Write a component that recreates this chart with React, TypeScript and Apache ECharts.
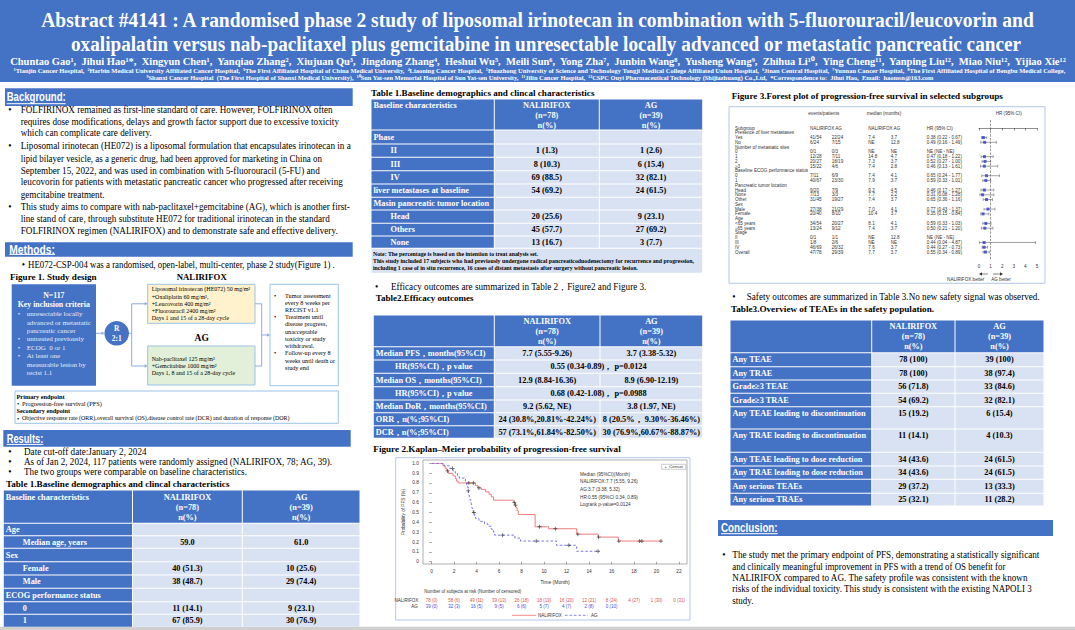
import React, { useEffect, useRef } from "react";
import * as echarts from "echarts";

// ---------------- DATA: Figure 2 Kaplan–Meier (PFS) ----------------
const kmNalirifox = [[0,1],[1.0,0.974],[1.2,0.949],[1.35,0.923],[1.5,0.897],[1.9,0.872],[2.1,0.846],[2.2,0.82],[2.35,0.8],[3.9,0.775],[4.1,0.75],[4.4,0.735],[4.8,0.71],[5.1,0.685],[5.3,0.66],[5.5,0.625],[7.3,0.6],[7.4,0.575],[7.5,0.55],[7.6,0.52],[7.7,0.48],[9.2,0.355],[10.4,0.335],[12.9,0.28],[14.8,0.25],[16.6,0.21],[20.4,0.21]];
const kmAG = [[0,1],[1.1,0.974],[1.6,0.949],[1.9,0.92],[2.1,0.9],[2.3,0.875],[2.45,0.85],[3.0,0.82],[3.1,0.79],[3.15,0.76],[3.25,0.72],[3.3,0.69],[3.35,0.66],[3.4,0.63],[3.5,0.6],[3.55,0.57],[3.6,0.54],[3.7,0.5],[3.8,0.47],[3.9,0.44],[4.2,0.41],[4.7,0.385],[5.0,0.36],[5.3,0.33],[5.5,0.3],[5.6,0.27],[7.4,0.24],[7.9,0.21],[11.1,0.167],[12.9,0.106],[14.8,0.106]];
const censorNalirifox = [[1.4,0.923],[3.3,0.8],[3.7,0.8],[4.2,0.75],[7.35,0.6],[7.45,0.575],[9.6,0.355],[11.0,0.335],[13.0,0.28],[14.85,0.25],[16.65,0.21],[18.5,0.21],[18.7,0.21],[20.4,0.21]];
const censorAG = [[1.85,0.949],[3.25,0.72],[3.75,0.5],[6.3,0.27],[9.3,0.21],[12.2,0.167],[14.8,0.106]];
const riskMonths = [0,2,4,6,8,10,12,14,16,18,20,22];
const riskNalirifox = ["78 (0)","58 (6)","49 (11)","39 (13)","26 (18)","18 (19)","16 (20)","12 (21)","8 (24)","4 (27)","1 (30)","0 (31)"];
const riskAG = ["39 (0)","32 (3)","16 (5)","9 (5)","6 (6)","5 (7)","4 (7)","2 (8)","0 (10)"];
const kmStats = ["Median (95%CI)(Month)","NALIRIFOX:7.7 (5.55, 9.26)","AG:3.7 (3.38, 5.32)","HR:0.55 (95%CI 0.34, 0.89)","Logrank p-value=0.0124"];

// ---------------- DATA: Figure 3 forest plot ----------------
const forestLabels = ["Subgroup","Presence of liver metastases","Yes","No","Number of metastatic sites","0","1","2","\u22653","Baseline ECOG performance status","0","1","Pancreatic tumor location","Head","None","Other","Sex","Male","Female","Age","<65 years","\u226565 years","Stage","II","III","IV","Overall"];
const forestEventsN = ["NALIRIFOX AG","","41/54","6/24","","0/1","12/28","20/27","15/22","","7/11","40/67","","9/20","7/13","31/45","","27/38","20/40","","34/54","13/24","","0/1","1/8","46/69","47/78"];
const forestEventsA = ["","","22/24","7/15","","0/3","7/11","18/19","4/6","","6/9","23/30","","7/9","3/3","19/27","","21/29","8/10","","20/27","9/12","","1/1","2/6","26/32","29/39"];
const forestMedN = ["NALIRIFOX AG","","7.4","NE","","NE","14.8","7.3","7.4","","7.4","7.9","","9.2","7.7","7.4","","7.0","10.4","","8.1","7.4","","NE","NE","7.6","7.7"];
const forestMedA = ["","","3.7","12.8","","NE","4.7","3.7","2.8","","4.1","3.7","","4.5","2.2","3.7","","4.1","3.7","","4.1","3.7","","12.8","NE","3.7","3.7"];
const forestHRText = ["HR (95% CI)","","0.38 (0.22 - 0.67)","0.49 (0.16 - 1.49)","","NE (NE - NE)","0.47 (0.18 - 1.22)","0.52 (0.27 - 1.00)","0.46 (0.13 - 1.61)","","0.65 (0.24 - 1.77)","0.59 (0.33 - 1.01)","","0.46 (0.17 - 1.27)","0.31 (0.08 - 1.28)","0.65 (0.36 - 1.16)","","0.77 (0.43 - 1.37)","0.35 (0.15 - 0.84)","","0.59 (0.33 - 1.03)","0.50 (0.21 - 1.20)","","NE (NE - NE)","0.44 (0.04 - 4.87)","0.44 (0.27 - 0.73)","0.55 (0.34 - 0.89)"];
const forestHR = [null,null,0.38,0.49,null,null,0.47,0.52,0.46,null,0.65,0.59,null,0.46,0.31,0.65,null,0.77,0.35,null,0.59,0.50,null,null,0.44,0.44,0.55];
const forestLo = [null,null,0.22,0.16,null,null,0.18,0.27,0.13,null,0.24,0.33,null,0.17,0.08,0.36,null,0.43,0.15,null,0.33,0.21,null,null,0.04,0.27,0.34];
const forestHi = [null,null,0.67,1.49,null,null,1.22,1.00,1.61,null,1.77,1.01,null,1.27,1.28,1.16,null,1.37,0.84,null,1.03,1.20,null,null,4.87,0.73,0.89];

// ---------------- DATA: tables ----------------
const hdrN = ["NALIRIFOX","(n=78)","n(%)"];
const hdrAG = ["AG","(n=39)","n(%)"];
const t1aLabels = ["Age","Median age, years","Sex","Female","Male","ECOG performance status","0","1"];
const t1aIndent = [0,1,0,1,1,0,1,1];
const t1aN = ["","59.0","","40 (51.3)","38 (48.7)","","11 (14.1)","67 (85.9)"];
const t1aAG = ["","61.0","","10 (25.6)","29 (74.4)","","9 (23.1)","30 (76.9)"];
const t1bLabels = ["Phase","II","III","IV","liver metastases at baseline","Masin pancreatic tumor location","Head","Others","None"];
const t1bIndent = [0,1,1,1,0,0,1,1,1];
const t1bN = ["","1 (1.3)","8 (10.3)","69 (88.5)","54 (69.2)","","20 (25.6)","45 (57.7)","13 (16.7)"];
const t1bAG = ["","1 (2.6)","6 (15.4)","32 (82.1)","24 (61.5)","","9 (23.1)","27 (69.2)","3 (7.7)"];
const t2Labels = ["Median PFS\uff0cmonths(95%CI)","HR(95%CI)\uff0cp value","Median OS\uff0cmonths(95%CI)","HR(95%CI)\uff0cp value","Median DoR\uff0cmonths(95%CI)","ORR\uff0cn(%;95%CI)","DCR\uff0cn(%;95%CI)"];
const t2Merged = [0,1,0,1,0,0,0];
const t2N = ["7.7 (5.55-9.26)","0.55 (0.34-0.89)\uff0c p=0.0124","12.9 (8.84-16.36)","0.68 (0.42-1.08)\uff0c p=0.0988","9.2 (5.62, NE)","24 (30.8%,20.81%-42.24%)","57 (73.1%,61.84%-82.50%)"];
const t2AG = ["3.7 (3.38-5.32)","","8.9 (6.90-12.19)","","3.8 (1.97, NE)","8 (20.5%\uff0c 9.30%-36.46%)","30 (76.9%,60.67%-88.87%)"];
const t3Labels = ["Any TEAE","Any TRAE","Grade\u22653 TEAE","Grade\u22653 TRAE","Any TEAE leading to discontinuation","Any TRAE leading to discontinuation","Any TEAE leading to dose reduction","Any TRAE leading to dose reduction","Any serious TEAEs","Any serious TRAEs"];
const t3Tall = [0,0,0,0,1,1,0,0,0,0];
const t3N = ["78 (100)","78 (100)","56 (71.8)","54 (69.2)","15 (19.2)","11 (14.1)","34 (43.6)","34 (43.6)","29 (37.2)","25 (32.1)"];
const t3AG = ["39 (100)","38 (97.4)","33 (84.6)","32 (82.1)","6 (15.4)","4 (10.3)","24 (61.5)","24 (61.5)","13 (33.3)","11 (28.2)"];

// ---------------- STYLE ----------------
const BLUE = "#4472C4";
const LIGHT = "#D9E2F3";
const SERIF = "'Liberation Serif', 'Times New Roman', serif";
const SANS = "'Liberation Sans', Arial, sans-serif";
const KM_RED = "#EE6F6F";
const KM_BLUE = "#6464E6";
const PLUS = "path://M4,0H6V4H10V6H6V10H4V6H0V4H4Z";

const KM = { left: 431.7, top: 463.3, w: 247.3, h: 98.4, xmax: 22 };
const FP = { left: 979, top: 120, w: 58, h: 140, ymin: -1.68, ymax: 27.67 };
const kmX = (t: number) => KM.left + (t / KM.xmax) * KM.w;
const fy = (i: number) => FP.top + ((i - FP.ymin) / (FP.ymax - FP.ymin)) * FP.h;

let _ctx: any = null;
function measure(text: string, font: string) {
  if (!_ctx) _ctx = document.createElement("canvas").getContext("2d");
  if (!_ctx) return 0;
  _ctx.font = font;
  return _ctx.measureText(text).width;
}

function buildOption() {
  const els: any[] = [];
  const rect = (x: number, y: number, w: number, h: number, fill: string | null, stroke?: string, lw = 1, z = 5) =>
    els.push({ type: "rect", silent: true, z, shape: { x, y, width: w, height: h }, style: { fill: fill || "none", stroke: stroke || "none", lineWidth: lw } });
  const line = (x1: number, y1: number, x2: number, y2: number, stroke: string, lw = 1, dash?: number[]) =>
    els.push({ type: "line", silent: true, z: 8, shape: { x1, y1, x2, y2 }, style: { stroke, lineWidth: lw, lineDash: dash } });
  const arrowHead = (x: number, y: number, dir: number, color: string) =>
    els.push({ type: "polygon", silent: true, z: 8, shape: { points: [[x, y], [x - 3 * dir, y - 1.8], [x - 3 * dir, y + 1.8]] }, style: { fill: color } });
  const text = (t: string, x: number, y: number, o: any = {}) => {
    const font = `${o.bold ? "bold " : ""}${o.size ?? 9.3}px ${o.fam ?? SERIF}`;
    let sx = o.sx ?? 1;
    if (o.w) { const m = measure(t, font); if (m > 0) sx = o.w / m; }
    const al = o.align ?? "left";
    els.push({ type: "text", silent: true, z: 20, x, y, scaleX: sx, rotation: o.rot ?? 0,
      style: { text: t, font, fill: o.color ?? "#000", align: al, verticalAlign: "middle", textAlign: al, textVerticalAlign: "middle" } });
    return sx;
  };
  const para = (lines: any[], x: number, bx: number, size: number) => {
    let s = 1;
    for (const l of lines) {
      if (l.w) s = text(l.t, x, l.y, { size, w: l.w }); else text(l.t, x, l.y, { size, sx: s });
      if (l.b) text("\u2022", bx, l.y, { size });
    }
  };
  const sect = (label: string, x: number, y: number, w: number, h: number, tx: number, tw: number) => {
    rect(x, y, w, h, BLUE);
    text(label, tx, y + h / 2 - 0.3, { size: 13, bold: true, fam: SANS, color: "#fff", w: tw });
    line(tx, y + h - 2.3, tx + tw, y + h - 2.3, "#fff", 1);
  };
  const table = (cols: number[], ry: number[], hy: number[], hdrLabel: string, labels: string[], indent: number[] | null,
    vN: string[], vAG: string[], merged: number[] | null, centered: number[] | null, tall: number[] | null) => {
    const g = 0.5;
    for (let c = 0; c < 3; c++) rect(cols[c] + g, ry[0] + g, cols[c + 1] - cols[c] - 2 * g, ry[1] - ry[0] - 2 * g, BLUE);
    if (hdrLabel) text(hdrLabel, cols[0] + 2.5, hy[0], { size: 8.3, bold: true, color: "#fff" });
    for (let k = 0; k < 3; k++) {
      text(hdrN[k], (cols[1] + cols[2]) / 2, hy[k], { size: 8.3, bold: true, color: "#fff", align: "center" });
      text(hdrAG[k], (cols[2] + cols[3]) / 2, hy[k], { size: 8.3, bold: true, color: "#fff", align: "center" });
    }
    labels.forEach((lab, i) => {
      const y0 = ry[i + 1], y1 = ry[i + 2];
      rect(cols[0] + g, y0 + g, cols[1] - cols[0] - 2 * g, y1 - y0 - 2 * g, BLUE);
      if (merged && merged[i]) rect(cols[1] + g, y0 + g, cols[3] - cols[1] - 2 * g, y1 - y0 - 2 * g, LIGHT);
      else {
        rect(cols[1] + g, y0 + g, cols[2] - cols[1] - 2 * g, y1 - y0 - 2 * g, LIGHT);
        rect(cols[2] + g, y0 + g, cols[3] - cols[2] - 2 * g, y1 - y0 - 2 * g, LIGHT);
      }
      const ty = tall && tall[i] ? y0 + 6.8 : (y0 + y1) / 2;
      if (centered && centered[i]) text(lab, (cols[0] + cols[1]) / 2, ty, { size: 8.3, bold: true, color: "#fff", align: "center" });
      else text(lab, cols[0] + (indent && indent[i] ? 19.5 : 2.5), ty, { size: 8.3, bold: true, color: "#fff" });
      if (merged && merged[i]) text(vN[i], (cols[1] + cols[3]) / 2, ty, { size: 8.3, bold: true, align: "center" });
      else {
        if (vN[i]) text(vN[i], (cols[1] + cols[2]) / 2, ty, { size: 8.3, bold: true, align: "center" });
        if (vAG[i]) text(vAG[i], (cols[2] + cols[3]) / 2, ty, { size: 8.3, bold: true, align: "center" });
      }
    });
  };

  // ---------- header ----------
  rect(0, 0, 1075, 82, BLUE, undefined, 1, 1);
  text("Abstract #4141 : A randomised phase 2 study of liposomal irinotecan in combination with 5-fluorouracil/leucovorin and", 537.5, 19.8, { size: 20, bold: true, color: "#fff", align: "center", w: 995 });
  text("oxalipalatin versus nab-paclitaxel plus gemcitabine in unresectable locally advanced or metastatic pancreatic cancer", 546, 44.5, { size: 20, bold: true, color: "#fff", align: "center", w: 951 });
  text("Chuntao Gao\u00b9,  Jihui Hao\u00b9*,  Xingyun Chen\u00b9,  Yanqiao Zhang\u00b2,  Xiujuan Qu\u00b3,  Jingdong Zhang\u2074,  Heshui Wu\u2075,  Meili Sun\u2076,  Yong Zha\u2077,  Junbin Wang\u2078,  Yusheng Wang\u2079,  Zhihua Li\u00b9\u2070,  Ying Cheng\u00b9\u00b9,  Yanping Liu\u00b9\u00b2,  Miao Niu\u00b9\u00b2,  Yijiao Xie\u00b9\u00b2", 538, 61.3, { size: 10, bold: true, color: "#fff", align: "center", w: 1060 });
  text("\u00b9Tianjin Cancer Hospital,  \u00b2Harbin Medical University Affiliated Cancer Hospital,  \u00b3The First Affiliated Hospital of China Medical University,  \u2074Liaoning Cancer Hospital,  \u2075Huazhong University of Science and Technology Tongji Medical College Affiliated Union Hospital,  \u2076Jinan Central Hospital,  \u2077Yunnan Cancer Hospital,  \u2078The First Affiliated Hospital of Bengbu Medical College,", 539.5, 70.2, { size: 6.5, bold: true, color: "#fff", align: "center", w: 1055 });
  text("\u2079Shanxi Cancer Hospital  (The First Hospital of Shanxi Medical University),  \u00b9\u2070Sun Yat-sen Memorial Hospital of Sun Yat-sen University,  \u00b9\u00b9Jilin Cancer Hospital,  \u00b9\u00b2CSPC Ouyi Pharmaceutical Technology (Shijiazhuang) Co.,Ltd,  *Correspondence to:  Jihui Hao,  Email:  haomsn@163.com", 540, 77.3, { size: 6.5, bold: true, color: "#fff", align: "center", w: 790 });

  // ---------- left column ----------
  sect("Background:", 5, 88.3, 347.7, 17.7, 6.7, 59);
  para([
    { t: "FOLFIRINOX remained as first-line standard of care. However, FOLFIRINOX often", y: 110, w: 312.3, b: 1 },
    { t: "requires dose modifications, delays and growth factor support due to excessive toxicity", y: 121.7, w: 318.3 },
    { t: "which can complicate care delivery.", y: 133.3 },
    { t: "Liposomal irinotecan (HE072) is a liposomal formulation that encapsulates irinotecan in a", y: 146, w: 330.3, b: 1 },
    { t: "lipid bilayer vesicle, as a generic drug, had been approved for marketing in China on", y: 158.7, w: 301.3 },
    { t: "September 15, 2022, and was used in combination with 5-fluorouracil (5-FU) and", y: 170.7, w: 299.3 },
    { t: "leucovorin for patients with metastatic pancreatic cancer who progressed after receiving", y: 182.3, w: 322.3 },
    { t: "gemcitabine treatment.", y: 195 },
    { t: "This study aims to compare with nab-paclitaxel+gemcitabine (AG), which is another first-", y: 207.3, w: 329.3, b: 1 },
    { t: "line stand of care, through substitute HE072 for traditional irinotecan in the standard", y: 218.7, w: 309.3 },
    { t: "FOLFIRINOX regimen (NALIRIFOX) and to demonstrate safe and effective delivery.", y: 231, w: 317.3 },
  ], 20.7, 8.3, 9.3);

  sect("Methods:", 5, 242.3, 347.7, 14.4, 9.3, 45.7);
  para([{ t: "HE072-CSP-004 was a randomised, open-label, multi-center, phase 2 study(Figure 1) .", y: 265, w: 307, b: 1 }], 28, 21.7, 9.3);
  text("Figure 1. Study design", 10, 276.7, { size: 9, bold: true, w: 86.7 });
  text("NALIRIFOX", 201.7, 276.7, { size: 9, bold: true, align: "center", w: 50 });

  // study design diagram
  const ARW = "#8FAADC";
  rect(11.7, 284.3, 84.3, 101.4, BLUE);
  text("N=117", 53.8, 295, { size: 7.8, bold: true, color: "#fff", align: "center" });
  text("Key inclusion criteria", 53.8, 305, { size: 7.8, bold: true, color: "#fff", align: "center", w: 72.3 });
  const incl = [["unresectable locally", 314, 1], ["advanced or metastatic", 322.7, 0], ["pancreatic cancer", 331, 0], ["untreated previously", 339.3, 1], ["ECOG  0 or 1", 347.7, 1], ["At least one", 356.3, 1], ["measurable lesion by", 364.7, 0], ["recist 1.1", 373.3, 0]];
  incl.forEach(([t, y, b]: any) => { text(t, 26.7, y, { size: 7, color: "#E9EEF8" }); if (b) text("\u2022", 17.7, y, { size: 7, color: "#E9EEF8" }); });
  line(96, 333.3, 102, 333.3, ARW, 1); arrowHead(104.5, 333.3, 1, ARW);
  els.push({ type: "circle", silent: true, z: 6, shape: { cx: 116.7, cy: 333.3, r: 12.3 }, style: { fill: BLUE } });
  text("R", 116.7, 328, { size: 7.5, bold: true, color: "#fff", align: "center" });
  text("2:1", 116.7, 338.5, { size: 7.5, bold: true, color: "#fff", align: "center" });
  line(129, 333.3, 131.7, 333.3, ARW, 1);
  line(131.7, 303.8, 131.7, 366, ARW, 1);
  line(131.7, 303.8, 145, 303.8, ARW, 1); arrowHead(147.7, 303.8, 1, ARW);
  line(131.7, 366, 145, 366, ARW, 1); arrowHead(147.7, 366, 1, ARW);
  rect(147.7, 284.3, 107.3, 39, "#FFF2CC", "#9DC3E6", 1);
  [["Liposomal irinotecan (HE072) 50 mg/m\u00b2", 289.3], ["+Oxaliplatin 60 mg/m\u00b2,", 296.7], ["+Leucovorin 400 mg/m\u00b2", 303.7], ["+Fluorouracil 2400 mg/m\u00b2", 310.7], ["Days 1 and 15 of a 28-day cycle", 318.3]]
    .forEach(([t, y]: any) => text(t, 151.7, y, { size: 6 }));
  text("AG", 201.7, 338.3, { size: 9.5, bold: true, align: "center" });
  rect(147.7, 346, 107.3, 39, "#E2F0D9", "#9DC3E6", 1);
  [["Nab-paclitaxel 125 mg/m\u00b2", 359], ["+Gemcitabine 1000 mg/m\u00b2", 366], ["Days 1, 8 and 15 of a 28-day cycle", 373.3]]
    .forEach(([t, y]: any) => text(t, 151.7, y, { size: 6 }));
  line(255, 303.8, 261.7, 303.8, ARW, 1);
  line(255, 366, 261.7, 366, ARW, 1);
  line(261.7, 303.8, 261.7, 366, ARW, 1);
  line(261.7, 335, 267.5, 335, ARW, 1); arrowHead(270, 335, 1, ARW);
  rect(270, 284.3, 68.3, 101.4, "#fff", "#9DC3E6", 1);
  const rb = [["Tumor assessment", 295.7, 1], ["every 8 weeks per", 302.7, 0], ["RECIST v1.1", 309.7, 0], ["Treatment until", 316.7, 1], ["disease progress,", 323.7, 0], ["unacceptable", 331, 0], ["toxicity or study", 338.3, 0], ["withdrawal.", 345.3, 0], ["Follow-up every 8", 352.7, 1], ["weeks until death or", 360, 0], ["study end", 367, 0]];
  rb.forEach(([t, y, b]: any) => { text(t, 285, y, { size: 6.2 }); if (b) text("\u2022", 274, y, { size: 6.2 }); });
  rect(15, 391, 323.3, 32.3, null, "#9DC3E6", 1);
  text("Primary endpoint", 16.5, 396, { size: 6.3, bold: true });
  text("\u2022", 17, 403.3, { size: 6.3 }); text("Progression-free survival (PFS)", 22, 403.3, { size: 6.3 });
  text("Secondary endpoint", 16.5, 410.7, { size: 6.3, bold: true });
  text("\u2022", 17, 418, { size: 6.3 });
  text("Objective response rate (ORR),overall survival (OS),disease control rate (DCR) and duration of response (DOR)", 22, 418, { size: 6.3, w: 268 });

  sect("Results:", 3.3, 430, 347.4, 16.7, 6.7, 36.6);
  para([{ t: "Date cut-off date:January 2, 2024", y: 451.7, w: 122.7, b: 1 }], 24, 8.3, 9.3);
  para([{ t: "As of Jan 2, 2024, 117 patients were randomly assigned (NALIRIFOX, 78; AG, 39).", y: 461.7, w: 309, b: 1 }], 24, 8.3, 9.3);
  para([{ t: "The two groups were comparable on baseline characteristics.", y: 471.7, w: 223, b: 1 }], 24, 8.3, 9.3);
  text("Table 1.Baseline demographics and clincal characteristics", 6, 484, { size: 9, bold: true, w: 224 });
  table([3.3, 132.5, 242.3, 360], [490, 523.3, 535.7, 548.3, 561.7, 575, 588.3, 601.7, 614.3, 627.3], [497.3, 507.3, 517.3],
    "Baseline characteristics", t1aLabels, t1aIndent, t1aN, t1aAG, null, null, null);

  // ---------- middle column ----------
  text("Table 1.Baseline demographics and clincal characteristics", 371, 93.3, { size: 9, bold: true, w: 224 });
  table([371, 494.3, 599.3, 702.7], [99, 130, 144, 157.3, 170.7, 184, 197.3, 210, 223.3, 236, 248.3], [105, 115, 125],
    "Baseline characteristics", t1bLabels, t1bIndent, t1bN, t1bAG, null, null, null);
  rect(371.5, 248.8, 330.7, 23.9, LIGHT);
  text("Note: The percentage is based on the intention to treat analysis set.", 373, 254, { size: 5.5, bold: true, w: 165.7 });
  text("This study included 17 subjects who had previously undergone radical pancreaticoduodenectomy for recurrence and progression,", 373, 261.3, { size: 5.5, bold: true, w: 321.7 });
  text("including 1 case of in situ recurrence, 16 cases of distant metastasis after surgery without pancreatic lesion.", 373, 268, { size: 5.5, bold: true, w: 265.7 });

  para([{ t: "Efficacy outcomes are summarized in Table 2\uff0cFigure2 and Figure 3.", y: 287.3, w: 255.7, b: 1 }], 391, 375, 9.3);
  text("Table2.Efficacy outcomes", 375.7, 298.3, { size: 9, bold: true, w: 98 });
  table([373.3, 494.3, 600, 702.7], [315, 346.7, 360, 373.3, 386.7, 400, 412.7, 425.7, 438.3], [321, 331.3, 341],
    "", t2Labels, null, t2N, t2AG, t2Merged, t2Merged, null);

  text("Figure 2.Kaplan\u2013Meier probability of progression-free survival", 373.3, 449, { size: 9, bold: true, w: 247.7 });
  rect(395.7, 457.7, 294.3, 162.3, null, "#B4C7E7", 1);
  rect(423, 460, 264, 104, null, "#8C8C8C", 0.7);
  text("Probability of PFS (%)", 403.3, 512, { size: 4.7, fam: SANS, color: "#333", align: "center", rot: Math.PI / 2 });
  rect(661.7, 464.3, 24, 5, "#fff", "#999", 0.5, 9);
  text("+  Censor", 673.7, 466.8, { size: 4.3, fam: SANS, color: "#333", align: "center" });
  kmStats.forEach((t, i) => text(t, 580, [474, 481.7, 489.7, 497, 504][i], { size: 4.7, fam: SANS, color: "#333" }));
  text("Time (Month)", 555, 582, { size: 5, fam: SANS, color: "#333", align: "center" });
  text("Number of subjects at risk (Number of censored)", 424.3, 591.7, { size: 4.5, fam: SANS, color: "#333" });
  text("NALIRIFOX", 418.3, 600, { size: 4.5, fam: SANS, color: "#333", align: "right" });
  text("AG", 417.7, 606, { size: 4.5, fam: SANS, color: "#333", align: "right" });
  riskNalirifox.forEach((t, i) => text(t, kmX(riskMonths[i]), 600, { size: 4.5, fam: SANS, color: "#E05050", align: "center" }));
  riskAG.forEach((t, i) => text(t, kmX(riskMonths[i]), 606, { size: 4.5, fam: SANS, color: "#4A4AD8", align: "center" }));
  line(512, 615.3, 536, 615.3, KM_RED, 0.8);
  text("NALIRIFOX", 538, 615.3, { size: 4.5, fam: SANS, color: "#333" });
  line(565, 615.3, 588, 615.3, KM_BLUE, 0.8, [2.5, 2]);
  text("AG", 591, 615.3, { size: 4.5, fam: SANS, color: "#333" });

  // ---------- right column ----------
  text("Figure 3.Forest plot of progression-free survival in selected subgroups", 731.7, 95.7, { size: 9, bold: true, w: 271.7 });
  rect(729, 106.7, 316, 176.6, null, "#B4C7E7", 1);
  const FS = { size: 4.6, fam: SANS, color: "#333" };
  text("events/patients", 808.3, 113.7, FS);
  text("median (months)", 866.7, 113.7, FS);
  text("HR (95% CI)", 1008.7, 113.7, { ...FS, align: "center" });
  forestLabels.forEach((lab, i) => {
    const y = fy(i);
    text(lab, 735, y, FS);
    if (forestEventsN[i]) text(forestEventsN[i], 810, y, FS);
    if (forestEventsA[i]) text(forestEventsA[i], 831.7, y, FS);
    if (forestMedN[i]) text(forestMedN[i], 868.3, y, FS);
    if (forestMedA[i]) text(forestMedA[i], 890.7, y, FS);
    if (forestHRText[i]) text(forestHRText[i], 926.7, y, FS);
  });
  line(988, 274, 981.5, 274, "#333", 0.6); arrowHead(979, 274, -1, "#333");
  line(993, 274, 1000.5, 274, "#333", 0.6); arrowHead(1003, 274, 1, "#333");
  text("NALIRIFOX better", 965.7, 279.3, { ...FS, align: "center" });
  text("AG better", 1001, 279.3, { ...FS, align: "center" });

  para([{ t: "Safety outcomes are summarized in Table 3.No new safety signal was observed.", y: 297.3, w: 293.3, b: 1 }], 746.7, 732.3, 9.3);
  text("Table3.Overview of TEAEs in the safety population.", 731, 309, { size: 9, bold: true, w: 203.3 });
  table([730, 871.7, 955, 1044], [320, 352.7, 366.7, 380, 393.3, 406.7, 429, 452.3, 466, 479.3, 493.3, 506], [326.7, 336.7, 346.7],
    "", t3Labels, null, t3N, t3AG, null, null, t3Tall);

  sect("Conclusion:", 718, 520, 335, 16, 721, 56.7);
  text("\u2022", 722.3, 555, { size: 9.3 });
  para([
    { t: "The study met the primary endpoint of PFS, demonstrating a statistically significant", y: 555, w: 307.7 },
    { t: "and clinically meaningful improvement in PFS with a trend of OS benefit for", y: 566.5, w: 273 },
    { t: "NALIRIFOX compared to AG. The safety profile was consistent with the known", y: 578, w: 296 },
    { t: "risks of the individual toxicity. This study is consistent with the existing NAPOLI 3", y: 589.3, w: 300 },
    { t: "study.", y: 600.7 },
  ], 732.3, 722.3, 9.3);

  rect(0, 626.7, 1075, 3.3, "#D0D0D0", undefined, 1, 1);

  // ---------- series ----------
  const forestPts: any[] = [];
  const forestCI: any[] = [];
  forestHR.forEach((v, i) => {
    if (v != null) { forestPts.push([v, i]); forestCI.push([i, forestLo[i], forestHi[i]]); }
  });
  const axisTxt = { fontFamily: SANS, color: "#333" };

  return {
    animation: false,
    backgroundColor: "#ffffff",
    grid: [
      { left: KM.left, top: KM.top, width: KM.w, height: KM.h },
      { left: FP.left, top: FP.top, width: FP.w, height: FP.h },
    ],
    xAxis: [
      { gridIndex: 0, type: "value", min: 0, max: 22, interval: 2, offset: 2.3,
        axisLine: { show: false }, axisTick: { show: true, length: 2.5, lineStyle: { color: "#666", width: 0.6 } },
        axisLabel: { ...axisTxt, fontSize: 4.8, margin: 5 }, splitLine: { show: false } },
      { gridIndex: 1, type: "value", min: 0, max: 5, interval: 1,
        axisLine: { show: true, lineStyle: { color: "#444", width: 0.6 } }, axisTick: { show: true, length: 2.5, lineStyle: { color: "#444", width: 0.6 } },
        axisLabel: { ...axisTxt, fontSize: 4.6, margin: 4 }, splitLine: { show: false } },
    ],
    yAxis: [
      { gridIndex: 0, type: "value", min: 0, max: 1, interval: 0.1, offset: 8.7,
        axisLine: { show: false }, axisTick: { show: true, length: 2.5, lineStyle: { color: "#666", width: 0.6 } },
        axisLabel: { ...axisTxt, fontSize: 4.8, margin: 4, formatter: (v: number) => (v === 0 ? "0" : v.toFixed(1)) }, splitLine: { show: false } },
      { gridIndex: 1, type: "value", inverse: true, min: FP.ymin, max: FP.ymax, show: false },
    ],
    series: [
      { type: "line", xAxisIndex: 0, yAxisIndex: 0, data: kmNalirifox, step: "end", symbol: "none", lineStyle: { color: KM_RED, width: 0.9 }, z: 3 },
      { type: "line", xAxisIndex: 0, yAxisIndex: 0, data: kmAG, step: "end", symbol: "none", lineStyle: { color: KM_BLUE, width: 0.9, type: [2.5, 2] }, z: 3 },
      { type: "scatter", xAxisIndex: 0, yAxisIndex: 0, data: censorNalirifox, symbol: PLUS, symbolSize: 4, itemStyle: { color: "#333" }, z: 4 },
      { type: "scatter", xAxisIndex: 0, yAxisIndex: 0, data: censorAG, symbol: PLUS, symbolSize: 4, itemStyle: { color: "#333" }, z: 4 },
      { type: "custom", xAxisIndex: 1, yAxisIndex: 1, data: forestCI, encode: { x: [1, 2], y: 0 },
        renderItem: (params: any, api: any) => {
          const row = api.value(0), lo = api.value(1), hi = api.value(2);
          const p1 = api.coord([lo, row]), p2 = api.coord([hi, row]);
          const st = { stroke: "#666", lineWidth: 0.6 };
          return { type: "group", children: [
            { type: "line", shape: { x1: p1[0], y1: p1[1], x2: p2[0], y2: p2[1] }, style: st },
            { type: "line", shape: { x1: p1[0], y1: p1[1] - 1.4, x2: p1[0], y2: p1[1] + 1.4 }, style: st },
            { type: "line", shape: { x1: p2[0], y1: p2[1] - 1.4, x2: p2[0], y2: p2[1] + 1.4 }, style: st },
          ] };
        } },
      { type: "scatter", xAxisIndex: 1, yAxisIndex: 1, data: forestPts, symbol: "rect", symbolSize: 3, itemStyle: { color: "#2B3BD0" }, z: 5,
        markLine: { silent: true, symbol: ["none", "none"], label: { show: false }, lineStyle: { type: "dashed", color: "#555", width: 0.6 }, data: [{ xAxis: 1 }] } },
    ],
    graphic: { elements: els },
  };
}

export default function App() {
  const ref = useRef<HTMLDivElement>(null);
  useEffect(() => {
    document.body.style.margin = "0";
    const chart = echarts.init(ref.current as HTMLDivElement, undefined, { renderer: "svg", width: 1075, height: 630 });
    chart.setOption(buildOption() as any);
    return () => chart.dispose();
  }, []);
  return <div ref={ref} style={{ position: "absolute", left: 0, top: 0, width: 1075, height: 630, background: "#fff" }} />;
}
